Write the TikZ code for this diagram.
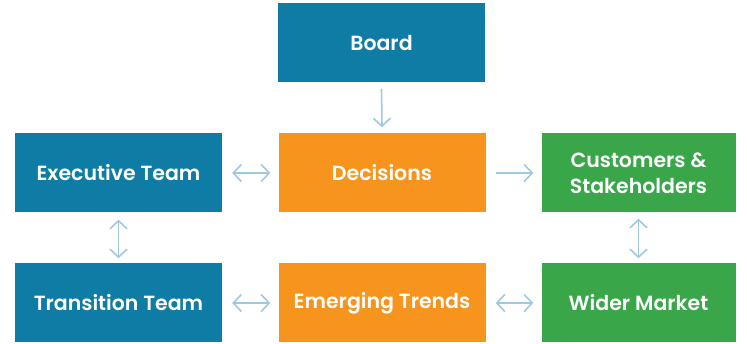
\documentclass[tikz,border=0pt]{standalone}
\usepackage{fontspec}
\setmainfont{Poppins}[BoldFont={Poppins SemiBold}]
\usetikzlibrary{arrows.meta}
\definecolor{bblue}{RGB}{14,124,164}
\definecolor{borange}{RGB}{247,148,30}
\definecolor{bgreen}{RGB}{58,166,74}
\definecolor{arrowc}{RGB}{160,200,222}
\tikzset{
  box/.style={minimum width=207pt, minimum height=79pt, inner sep=0pt, text=white,
    font=\fontsize{20.5}{26}\selectfont\bfseries, align=center},
  tipb/.tip={Straight Barb[length=8pt,width=17pt,line width=1.6pt]},
  conn/.style={draw=arrowc, line width=1.6pt, -tipb},
  conn2/.style={draw=arrowc, line width=1.6pt, tipb-tipb}
}
\begin{document}
\begin{tikzpicture}[x=1pt,y=-1pt]
\useasboundingbox (0,0) rectangle (747,344);
\node[box, fill=bblue] (board) at (381.5,43) {Board};
\node[box, fill=bblue] (exec) at (118.5,173) {Executive Team};
\node[box, fill=borange] (dec) at (382,173) {Decisions};
\node[box, fill=bgreen, minimum width=194pt] (cust) at (638.5,173) {Customers \&\\Stakeholders};
\node[box, fill=bblue] (trans) at (118.5,303) {Transition Team};
\node[box, fill=borange] (emerg) at (382,303) {Emerging Trends};
\node[box, fill=bgreen, minimum width=194pt] (wider) at (638.5,303) {Wider Market};
\draw[conn] ([yshift=-6pt]board.south) -- ([yshift=6pt]dec.north);
\draw[conn2] ([xshift=10pt]exec.east) -- ([xshift=-8pt]dec.west);
\draw[conn] ([xshift=10pt]dec.east) -- ([xshift=-8pt]cust.west);
\draw[conn2] ([yshift=-7pt]exec.south) -- ([yshift=5pt]trans.north);
\draw[conn2] ([yshift=-6pt]cust.south) -- ([yshift=5pt]wider.north);
\draw[conn2] ([xshift=10pt]trans.east) -- ([xshift=-8pt]emerg.west);
\draw[conn2] ([xshift=10pt]emerg.east) -- ([xshift=-8pt]wider.west);
\end{tikzpicture}
\end{document}
